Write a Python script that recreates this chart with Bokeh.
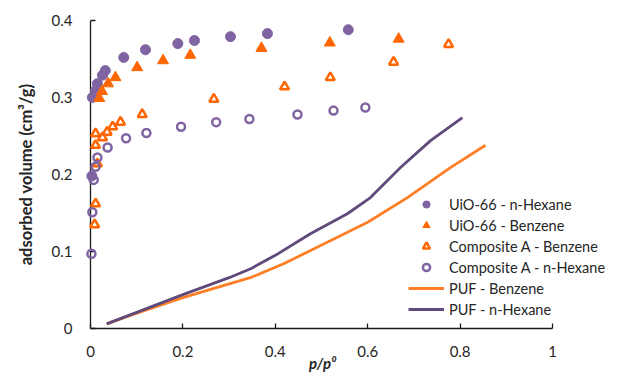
from bokeh.plotting import figure
from bokeh.models import Range1d, FixedTicker, Legend
from bokeh.embed import file_html
from bokeh.resources import INLINE

# ---- data ----
uio_hex_x = [0.003, 0.004, 0.011, 0.015, 0.026, 0.032, 0.072, 0.119, 0.189, 0.225, 0.303, 0.383, 0.558]
uio_hex_y = [0.198, 0.300, 0.309, 0.318, 0.329, 0.335, 0.352, 0.362, 0.370, 0.374, 0.379, 0.383, 0.388]

uio_benz_x = [0.019, 0.025, 0.038, 0.054, 0.101, 0.157, 0.216, 0.370, 0.518, 0.667]
uio_benz_y = [0.299, 0.308, 0.318, 0.326, 0.339, 0.348, 0.355, 0.364, 0.371, 0.376]

compA_benz_x = [0.009, 0.011, 0.015, 0.011, 0.011, 0.026, 0.036, 0.048, 0.065, 0.112, 0.267, 0.420, 0.519, 0.656, 0.775]
compA_benz_y = [0.135, 0.162, 0.214, 0.238, 0.253, 0.248, 0.255, 0.262, 0.268, 0.278, 0.298, 0.314, 0.326, 0.346, 0.369]

compA_hex_x = [0.002, 0.004, 0.007, 0.011, 0.015, 0.037, 0.077, 0.121, 0.196, 0.272, 0.344, 0.448, 0.526, 0.595]
compA_hex_y = [0.097, 0.151, 0.193, 0.210, 0.222, 0.235, 0.247, 0.254, 0.262, 0.268, 0.272, 0.278, 0.283, 0.287]

puf_benz_x = [0.035, 0.1, 0.2, 0.3, 0.346, 0.418, 0.519, 0.600, 0.686, 0.779, 0.855]
puf_benz_y = [0.006, 0.020, 0.040, 0.058, 0.066, 0.084, 0.114, 0.138, 0.170, 0.209, 0.238]

puf_hex_x = [0.035, 0.1, 0.2, 0.3, 0.348, 0.400, 0.476, 0.556, 0.606, 0.671, 0.736, 0.805]
puf_hex_y = [0.006, 0.021, 0.044, 0.066, 0.078, 0.095, 0.123, 0.149, 0.170, 0.209, 0.244, 0.274]

x_ticks = [0, 0.2, 0.4, 0.6, 0.8, 1]
x_tick_labels = ["0", "0.2", "0.4", "0.6", "0.8", "1"]
y_ticks = [0, 0.1, 0.2, 0.3, 0.4]
y_tick_labels = ["0", "0.1", "0.2", "0.3", "0.4"]

labels = ["UiO-66 - n-Hexane", "UiO-66 - Benzene", "Composite A - Benzene",
          "Composite A - n-Hexane", "PUF - Benzene", "PUF - n-Hexane"]

PURPLE = "#8064A2"
ORANGE = "#FF6600"
LINE_ORANGE = "#FF7F27"
LINE_PURPLE = "#604A7B"
FONT = "Lato"
TXT = "#262626"

# frame spans 90..623 px; x axis itself is bounded to 0..1 (90..552 px)
p = figure(width=631, height=374, x_range=Range1d(0, 533 / 462), y_range=Range1d(0, 0.4),
           output_backend="svg", toolbar_location=None,
           min_border_left=90, min_border_right=8, min_border_top=20, min_border_bottom=46)
p.outline_line_color = None
p.xgrid.visible = False
p.ygrid.visible = False
p.background_fill_color = "white"
p.border_fill_color = "white"

for ax in (p.xaxis[0], p.yaxis[0]):
    ax.axis_line_color = "#1a1a1a"
    ax.axis_line_width = 1.3
    ax.major_tick_line_color = "#1a1a1a"
    ax.major_tick_line_width = 1.3
    ax.major_tick_in = 5
    ax.major_tick_out = 0
    ax.minor_tick_line_color = None
    ax.major_label_text_font = FONT
    ax.major_label_text_font_size = "15px"
    ax.major_label_text_color = TXT

p.xaxis[0].bounds = (0, 1)
p.xaxis[0].ticker = FixedTicker(ticks=x_ticks)
p.yaxis[0].ticker = FixedTicker(ticks=y_ticks)
p.xaxis[0].major_label_overrides = {t: l for t, l in zip(x_ticks, x_tick_labels)}
p.yaxis[0].major_label_overrides = {t: l for t, l in zip(y_ticks, y_tick_labels)}
p.xaxis[0].major_label_standoff = 17
p.yaxis[0].major_label_standoff = 18

# trailing em/en spaces shift the centred label over the bounded 0..1 axis
p.xaxis[0].axis_label = "p/p⁰" + "\u2003" * 6 + "\u2002"
p.xaxis[0].axis_label_text_font = FONT
p.xaxis[0].axis_label_text_font_size = "15px"
p.xaxis[0].axis_label_text_font_style = "bold italic"
p.xaxis[0].axis_label_text_color = TXT
p.xaxis[0].axis_label_standoff = -6

p.yaxis[0].axis_label = "adsorbed volume (cm³/g)"
p.yaxis[0].axis_label_text_font = FONT
p.yaxis[0].axis_label_text_font_size = "16.5px"
p.yaxis[0].axis_label_text_font_style = "bold"
p.yaxis[0].axis_label_text_color = TXT
p.yaxis[0].axis_label_standoff = 13

r1 = p.scatter(uio_hex_x, uio_hex_y, marker="circle", size=10,
               fill_color=PURPLE, line_color=PURPLE, level="overlay")
r2 = p.scatter(uio_benz_x, uio_benz_y, marker="triangle", size=11,
               fill_color=ORANGE, line_color=ORANGE, level="overlay")
r3 = p.scatter(compA_benz_x, compA_benz_y, marker="triangle", size=9,
               fill_color=None, line_color=ORANGE, line_width=2.5, level="overlay")
r4 = p.scatter(compA_hex_x, compA_hex_y, marker="circle", size=8,
               fill_color=None, line_color=PURPLE, line_width=2.5, level="overlay")
r5 = p.line(puf_benz_x, puf_benz_y, line_color=LINE_ORANGE, line_width=2.8)
r6 = p.line(puf_hex_x, puf_hex_y, line_color=LINE_PURPLE, line_width=2.8)

legend = Legend(items=[(labels[0], [r1]), (labels[1], [r2]), (labels[2], [r3]),
                       (labels[3], [r4]), (labels[4], [r5]), (labels[5], [r6])],
                location=(318, 10))
legend.padding = 0
legend.margin = 0
legend.spacing = 3
legend.glyph_width = 36
legend.glyph_height = 18
legend.label_height = 18
legend.label_standoff = 5
legend.background_fill_alpha = 0
legend.border_line_alpha = 0
legend.label_text_font = FONT
legend.label_text_font_size = "14.5px"
legend.label_text_color = TXT
p.add_layout(legend, "center")

open("out.html", "w").write(file_html(p, INLINE))
